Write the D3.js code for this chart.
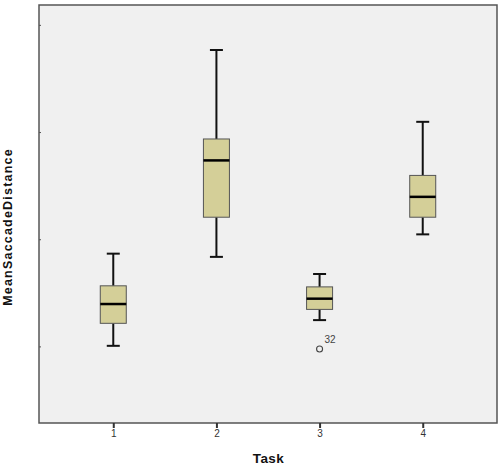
<!DOCTYPE html>
<html><head><meta charset="utf-8">
<script src="https://cdn.jsdelivr.net/npm/d3@7"></script>
<style>body{margin:0;background:#fff}svg{display:block}</style>
</head><body>
<script>
const tasks = [1, 2, 3, 4];
const whiskerLow  = [1.01, 1.84, 1.25, 2.05];
const q1          = [1.22, 2.21, 1.35, 2.21];
const medians     = [1.40, 2.74, 1.45, 2.40];
const q3          = [1.57, 2.94, 1.56, 2.60];
const whiskerHigh = [1.87, 3.77, 1.68, 3.10];
const outliers = [{task: 3, value: 0.98, label: "32"}];
const yTickValues = [1, 2, 3, 4];
const xTickLabels = ["1", "2", "3", "4"];

const W = 502, H = 473;
const m = {left: 39, top: 5, right: 5, bottom: 50};
const svg = d3.select("body").append("svg").attr("width", W).attr("height", H);

const x = d3.scaleLinear().domain([0.28, 4.72]).range([m.left, W - m.right]);
const y = d3.scaleLinear().domain([0.29, 4.19]).range([H - m.bottom, m.top]);

svg.append("rect").attr("x", m.left).attr("y", m.top)
  .attr("width", W - m.right - m.left).attr("height", H - m.bottom - m.top)
  .attr("fill", "#f0f0f0").attr("stroke", "#555").attr("stroke-width", 1.5);

// y ticks (no labels)
svg.selectAll(".yt").data(yTickValues).enter().append("line")
  .attr("x1", m.left).attr("x2", m.left + 2)
  .attr("y1", d => y(d)).attr("y2", d => y(d))
  .attr("stroke", "#555").attr("stroke-width", 1);

// x axis
const xAxis = svg.append("g").attr("transform", `translate(0,${H - m.bottom})`)
  .call(d3.axisBottom(x).tickValues(tasks).tickFormat((d, i) => xTickLabels[i]).tickSize(5).tickPadding(2));
xAxis.select(".domain").remove();
xAxis.selectAll(".tick line").attr("stroke", "#333").attr("stroke-width", 2);
xAxis.selectAll(".tick text").attr("font-family", "Liberation Sans, Arial, sans-serif")
  .attr("font-size", 10).attr("fill", "#333");

const boxW = 26, capW = 13;
const data = tasks.map((t, i) => ({t, lo: whiskerLow[i], q1: q1[i], med: medians[i], q3: q3[i], hi: whiskerHigh[i]}));
const g = svg.selectAll(".box").data(data).enter().append("g");
g.append("line").attr("x1", d => x(d.t)).attr("x2", d => x(d.t))
  .attr("y1", d => y(d.hi)).attr("y2", d => y(d.q3)).attr("stroke", "#111").attr("stroke-width", 2);
g.append("line").attr("x1", d => x(d.t)).attr("x2", d => x(d.t))
  .attr("y1", d => y(d.q1)).attr("y2", d => y(d.lo)).attr("stroke", "#111").attr("stroke-width", 2);
g.append("line").attr("x1", d => x(d.t) - capW / 2).attr("x2", d => x(d.t) + capW / 2)
  .attr("y1", d => y(d.hi)).attr("y2", d => y(d.hi)).attr("stroke", "#111").attr("stroke-width", 2);
g.append("line").attr("x1", d => x(d.t) - capW / 2).attr("x2", d => x(d.t) + capW / 2)
  .attr("y1", d => y(d.lo)).attr("y2", d => y(d.lo)).attr("stroke", "#111").attr("stroke-width", 2);
g.append("rect").attr("x", d => x(d.t) - boxW / 2).attr("width", boxW)
  .attr("y", d => y(d.q3)).attr("height", d => y(d.q1) - y(d.q3))
  .attr("fill", "#d4cf98").attr("stroke", "#555").attr("stroke-width", 1);
g.append("line").attr("x1", d => x(d.t) - boxW / 2).attr("x2", d => x(d.t) + boxW / 2)
  .attr("y1", d => y(d.med)).attr("y2", d => y(d.med)).attr("stroke", "#000").attr("stroke-width", 2.5);

// outliers
svg.selectAll(".out").data(outliers).enter().append("circle")
  .attr("cx", d => x(d.task)).attr("cy", d => y(d.value)).attr("r", 3)
  .attr("fill", "none").attr("stroke", "#444").attr("stroke-width", 1.1);
svg.selectAll(".outl").data(outliers).enter().append("text")
  .attr("x", d => x(d.task) + 5).attr("y", d => y(d.value) - 6)
  .attr("font-family", "Liberation Sans, Arial, sans-serif").attr("font-size", 10).attr("fill", "#444")
  .text(d => d.label);

// titles
svg.append("text").attr("x", 268.5).attr("y", 463)
  .attr("text-anchor", "middle").attr("font-family", "Liberation Sans, Arial, sans-serif")
  .attr("font-weight", "bold").attr("font-size", 13.5).attr("letter-spacing", 0.4)
  .attr("fill", "#111").text("Task");
svg.append("text").attr("transform", `translate(12,227) rotate(-90)`)
  .attr("text-anchor", "middle").attr("font-family", "Liberation Sans, Arial, sans-serif")
  .attr("font-weight", "bold").attr("font-size", 12.5).attr("letter-spacing", 1.2)
  .attr("fill", "#111").text("MeanSaccadeDistance");
</script>
</body></html>
